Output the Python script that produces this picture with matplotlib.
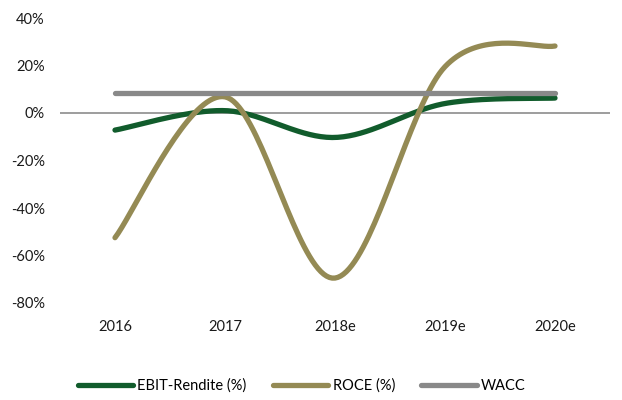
import numpy as np
from matplotlib import pyplot as plt

years = ['2016', '2017', '2018e', '2019e', '2020e']
ebit = [-7.2, 1.0, -10.3, 4.0, 6.3]
roce = [-52.5, 6.8, -69.5, 19.5, 28.2]
wacc = [8.3, 8.3, 8.3, 8.3, 8.3]


def smooth(y, n=40):
    # excel-like smoothed line: catmull-rom segments as cubic bezier
    x = np.arange(len(y), dtype=float)
    y = np.array(y, dtype=float)
    xs, ys = [], []
    for i in range(len(y) - 1):
        p0 = i - 1 if i > 0 else i
        p3 = i + 2 if i + 2 < len(y) else i + 1
        c1 = (x[i] + (x[i + 1] - x[p0]) / 6, y[i] + (y[i + 1] - y[p0]) / 6)
        c2 = (x[i + 1] - (x[p3] - x[i]) / 6, y[i + 1] - (y[p3] - y[i]) / 6)
        t = np.linspace(0, 1, n)
        a = (1 - t) ** 3
        b = 3 * (1 - t) ** 2 * t
        c = 3 * (1 - t) * t ** 2
        d = t ** 3
        xs.extend(a * x[i] + b * c1[0] + c * c2[0] + d * x[i + 1])
        ys.extend(a * y[i] + b * c1[1] + c * c2[1] + d * y[i + 1])
    return np.array(xs), np.array(ys)


plt.rcParams['font.family'] = ['Lato', 'DejaVu Sans']
fig = plt.figure(figsize=(6.22, 4.0), dpi=100)
ax = fig.add_axes([60 / 622, 1 - 303 / 400, 550 / 622, 285 / 400])

ax.axhline(0, color='#8c8c8c', lw=1.2, zorder=1)
for vals, col, lab in [(ebit, '#115c2c', 'EBIT-Rendite (%)'),
                       (roce, '#948a54', 'ROCE (%)'),
                       (wacc, '#898989', 'WACC')]:
    sx, sy = smooth(vals)
    ax.plot(sx, sy, color=col, lw=3.8, solid_capstyle='round', label=lab, zorder=2)

ax.set_xlim(-0.5, 4.5)
ax.set_ylim(-80, 40)
ax.set_yticks(range(-80, 41, 20))
ax.set_yticklabels([f'{v}%' for v in range(-80, 41, 20)], fontsize=10.5, color='#1a1a1a')
ax.set_xticks(range(len(years)))
ax.set_xticklabels(years, fontsize=10.5, color='#1a1a1a')
ax.tick_params(length=0, pad=12)
ax.tick_params(axis='y', pad=11)
for s in ax.spines.values():
    s.set_visible(False)

fig.legend(loc='lower center', bbox_to_anchor=(0.485, -0.015), ncol=3, frameon=False,
           fontsize=10.5, handlelength=3.8, columnspacing=1.8, handletextpad=0.3)
fig.savefig('out.png', dpi=100)
